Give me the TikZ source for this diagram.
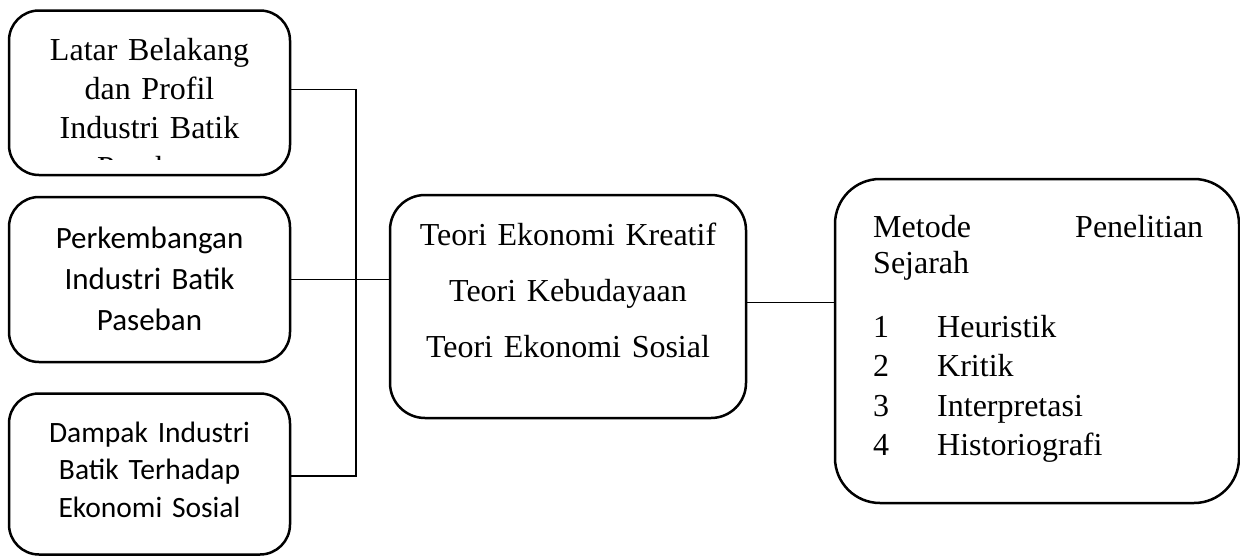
\documentclass[tikz,border=0pt]{standalone}
\usepackage{fontspec}
\setmainfont{Liberation Serif}
\newfontfamily\calibri{Carlito}
\usetikzlibrary{positioning}
\tikzset{
  box/.style={draw, line width=2.5pt, rounded corners=30pt, inner sep=0pt},
  txt/.style={inner sep=0pt, align=center},
  link/.style={line width=1.4pt},
}

\begin{document}
\begin{tikzpicture}[x=1pt, y=-1pt]
    \useasboundingbox (0,0) rectangle (1240,557);

    % Draw left boxes
    \node[box, minimum width=281pt, minimum height=164.5pt] (latar) at (149.5,92.75) {};
    \node[txt, text width=260pt, anchor=base, font=\fontsize{32}{39}\selectfont] (latartext) at (149.5,60) {Latar Belakang\\dan Profil\\Industri Batik};
    \begin{scope}
        \clip (20,150) rectangle (280,159.5);
        \node[txt, anchor=base, font=\fontsize{32}{39}\selectfont] (latarcut) at (149.5,178) {Paseban};
    \end{scope}

    \node[box, minimum width=281pt, minimum height=165pt] (perkembangan) at (149.5,279.5) {};
    \node[txt, text width=260pt, anchor=base, font=\calibri\fontsize{31}{41}\selectfont] (perkembangantext) at (149.5,248) {Perkembangan\\Industri Batik\\Paseban};

    \node[box, minimum width=281pt, minimum height=161pt] (dampak) at (149.5,474) {};
    \node[txt, text width=260pt, anchor=base, font=\calibri\fontsize{29.5}{37.5}\selectfont] (dampaktext) at (149.5,442) {Dampak Industri\\Batik Terhadap\\Ekonomi Sosial};

    % Draw theory box
    \node[box, rounded corners=35pt, minimum width=356pt, minimum height=223pt] (teori) at (568,306.5) {};
    \node[txt, text width=340pt, anchor=base, font=\fontsize{32}{56}\selectfont] (teoritext) at (568,245) {Teori Ekonomi Kreatif\\Teori Kebudayaan\\Teori Ekonomi Sosial};

    % Draw method box
    \node[box, rounded corners=45pt, minimum width=404pt, minimum height=324pt] (metode) at (1037,341) {};
    \node[txt, align=left, text width=330pt, anchor=base west, font=\fontsize{32}{36}\selectfont] (metodetext) at (873,237) {Metode\hfill Penelitian\\Sejarah};
    \node[txt, anchor=base west, font=\fontsize{32}{39.5}\selectfont] (langkah) at (873,337) {\begin{tabular}[t]{@{}p{64pt}@{}l@{}}1&Heuristik\\2&Kritik\\3&Interpretasi\\4&Historiografi\end{tabular}};

    % Draw connectors
    \coordinate (bus) at (356,279.5);
    \coordinate (lout) at ([yshift=3pt]latar.east);
    \coordinate (dout) at ([yshift=-2pt]dampak.east);
    \coordinate (tout) at ([yshift=4pt]teori.east);
    \draw[link] (lout) -| (bus) |- (dout);
    \draw[link] (perkembangan.east) -- (perkembangan.east -| teori.west);
    \draw[link] (tout) -- (tout -| metode.west);
\end{tikzpicture}
\end{document}
